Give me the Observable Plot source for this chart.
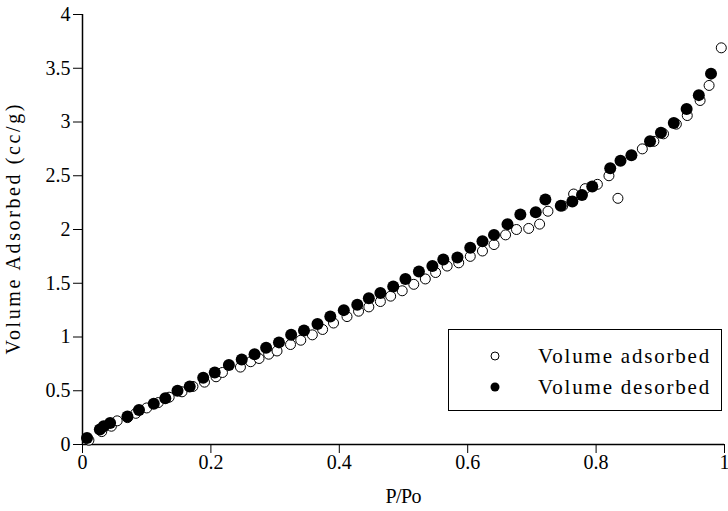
<!DOCTYPE html>
<html><head><meta charset="utf-8">
<script src="https://cdn.jsdelivr.net/npm/d3@7"></script>
<script src="https://cdn.jsdelivr.net/npm/@observablehq/plot@0.6"></script>
<style>
body{margin:0;background:#fff;}
#wrap{position:relative;width:728px;height:511px;overflow:hidden;}
#wrap svg text{font-family:"Liberation Serif","Times New Roman",Times,"DejaVu Serif",serif !important;}
.legend{position:absolute;left:448px;top:329px;width:274px;height:82px;border:1px solid #000;box-sizing:border-box;background:#fff;font-family:"Liberation Serif","Times New Roman",Times,"DejaVu Serif",serif;font-size:21px;color:#000;}
.legend .row{position:absolute;left:0;height:24px;display:flex;align-items:center;}
.legend svg{position:absolute;left:40px;}
.legend span{position:absolute;left:89px;white-space:nowrap;letter-spacing:1.8px;}
</style></head><body><div id="wrap"></div>
<script>
// Adsorption branch (open circles)
const adsP = [0.010,0.030,0.045,0.054,0.070,0.083,0.100,0.118,0.135,0.155,0.172,0.190,0.208,0.218,0.246,0.262,0.275,0.290,0.303,0.324,0.340,0.358,0.374,0.391,0.412,0.430,0.446,0.464,0.480,0.498,0.516,0.534,0.550,0.568,0.586,0.604,0.623,0.641,0.659,0.676,0.695,0.712,0.725,0.748,0.765,0.783,0.802,0.820,0.834,0.872,0.890,0.905,0.925,0.942,0.962,0.976,0.995];
const adsV = [0.04,0.12,0.17,0.22,0.25,0.29,0.34,0.39,0.44,0.49,0.54,0.58,0.63,0.67,0.72,0.77,0.80,0.84,0.87,0.93,0.97,1.02,1.07,1.13,1.19,1.24,1.28,1.33,1.38,1.43,1.49,1.54,1.60,1.66,1.69,1.75,1.80,1.86,1.95,2.00,2.01,2.05,2.17,2.22,2.33,2.38,2.42,2.50,2.29,2.75,2.82,2.89,2.98,3.06,3.20,3.34,3.69];
// Desorption branch (filled circles)
const desP = [0.007,0.027,0.033,0.043,0.070,0.088,0.111,0.129,0.148,0.167,0.188,0.206,0.228,0.248,0.268,0.286,0.306,0.325,0.345,0.366,0.386,0.407,0.428,0.446,0.464,0.484,0.503,0.524,0.545,0.562,0.584,0.604,0.623,0.641,0.662,0.682,0.706,0.721,0.745,0.763,0.778,0.794,0.822,0.838,0.855,0.884,0.901,0.921,0.941,0.960,0.979];
const desV = [0.06,0.14,0.17,0.20,0.26,0.32,0.38,0.43,0.50,0.54,0.62,0.67,0.74,0.79,0.84,0.90,0.95,1.02,1.06,1.12,1.19,1.25,1.30,1.36,1.41,1.47,1.54,1.61,1.66,1.72,1.74,1.83,1.89,1.95,2.05,2.14,2.16,2.28,2.22,2.26,2.32,2.40,2.57,2.64,2.69,2.82,2.90,2.99,3.12,3.25,3.45];
const xTicks = [0,0.2,0.4,0.6,0.8,1];
const yTicks = [0,0.5,1,1.5,2,2.5,3,3.5,4];
const seriesNames = ["Volume adsorbed","Volume desorbed"];
const xLabel = "P/Po";
const yLabel = "Volume Adsorbed (cc/g)";

const ads = adsP.map((p,i)=>({p, v:adsV[i]}));
const des = desP.map((p,i)=>({p, v:desV[i]}));

const chart = Plot.plot({
  width:728, height:511,
  marginLeft:82, marginRight:4, marginTop:14, marginBottom:67,
  style:{fontFamily:"'Liberation Serif', 'Times New Roman', serif", fontSize:"20px", background:"#fff", color:"#000", overflow:"visible"},
  x:{domain:[0,1]},
  y:{domain:[0,4]},
  marks:[
    Plot.axisX({ticks:xTicks, tickSize:9, tickPadding:1, tickFormat:d=>String(d), label:xLabel, labelAnchor:"center", labelArrow:"none", labelOffset:58}),
    Plot.axisY({ticks:yTicks, tickSize:9, tickPadding:3, tickFormat:d=>String(d), label:yLabel, labelAnchor:"center", labelArrow:"none", labelOffset:77}),
    Plot.ruleX([0], {strokeWidth:1.5}),
    Plot.ruleY([0], {strokeWidth:1.5}),
    Plot.dot(ads, {x:"p", y:"v", r:5, stroke:"#000", fill:"#fff", strokeWidth:1}),
    Plot.dot(des, {x:"p", y:"v", r:6, fill:"#000", stroke:"none"})
  ]
});
const wrap = document.getElementById("wrap");
wrap.appendChild(chart);
// stretch the axis titles like the reference's wide bitmap lettering
d3.select(chart).selectAll('g[aria-label="y-axis label"] text')
  .attr("textLength", 250).attr("lengthAdjust", "spacing");
d3.select(chart).selectAll('g[aria-label="x-axis label"] text')
  .attr("textLength", 36).attr("lengthAdjust", "spacing");

const leg = document.createElement("div");
leg.className = "legend";
leg.innerHTML = `
<div class="row" style="top:14px;width:100%"><svg width="12" height="12"><circle cx="6" cy="6" r="4" fill="#fff" stroke="#000" stroke-width="1"/></svg><span>${seriesNames[0]}</span></div>
<div class="row" style="top:45px;width:100%"><svg width="12" height="12"><circle cx="6" cy="6" r="4.5" fill="#000"/></svg><span>${seriesNames[1]}</span></div>`;
wrap.appendChild(leg);
</script>
</body></html>
